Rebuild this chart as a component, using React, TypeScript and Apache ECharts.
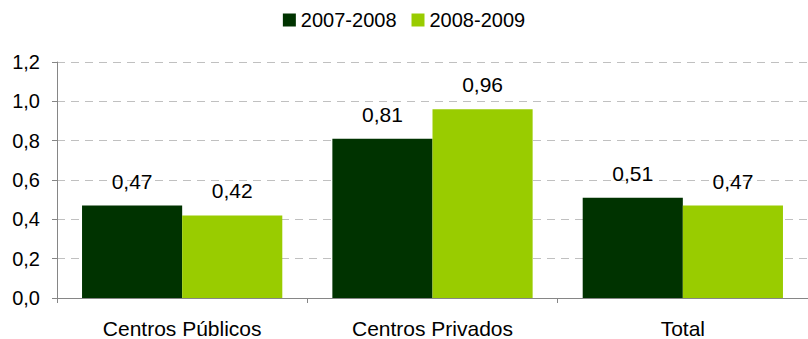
import React, { useEffect, useRef } from "react";
import * as echarts from "echarts";

const categories = ["Centros Públicos", "Centros Privados", "Total"];
const seriesNames = ["2007-2008", "2008-2009"];
const values2007 = [0.47, 0.81, 0.51];
const values2008 = [0.42, 0.96, 0.47];
const colors = ["#003300", "#99CC00"];

const fmt = (v: number) => v.toFixed(2).replace(".", ",");

export default function App() {
  const ref = useRef<HTMLDivElement>(null);
  useEffect(() => {
    if (!ref.current) return;
    const chart = echarts.init(ref.current, undefined, { renderer: "svg" });
    const font = "'Liberation Sans', Arial, sans-serif";
    const mkSeries = (name: string, data: number[], color: string) => ({
      name,
      type: "bar",
      data,
      barGap: "0%",
      barCategoryGap: "20%",
      itemStyle: { color },
      label: {
        show: true,
        position: "top",
        distance: 14,
        formatter: (p: any) => fmt(p.value),
        fontFamily: font,
        fontSize: 21,
        color: "#000",
      },
    });
    chart.setOption({
      animation: false,
      textStyle: { fontFamily: font },
      legend: {
        top: 10,
        left: "center",
        padding: 0,
        itemWidth: 13,
        itemHeight: 13,
        itemGap: 15,
        icon: "rect",
        textStyle: { fontSize: 20, color: "#000", fontFamily: font },
        data: seriesNames,
      },
      grid: { left: 57, right: 0, top: 62, bottom: 39, containLabel: false },
      xAxis: {
        type: "category",
        data: categories,
        axisLine: { lineStyle: { color: "#868686", width: 1 } },
        axisTick: { show: true, length: 5, alignWithLabel: false, lineStyle: { color: "#868686" } },
        axisLabel: { fontSize: 21, color: "#000", margin: 20, fontFamily: font },
      },
      yAxis: {
        type: "value",
        min: 0,
        max: 1.2,
        interval: 0.2,
        axisLine: { show: true, lineStyle: { color: "#868686", width: 1 } },
        axisTick: { show: true, length: 5, lineStyle: { color: "#868686" } },
        axisLabel: {
          fontSize: 20,
          color: "#000",
          margin: 17,
          fontFamily: font,
          formatter: (v: number) => v.toFixed(1).replace(".", ","),
        },
        splitLine: { show: true, lineStyle: { color: "#c0c0c0", type: [8, 6], width: 1 } },
      },
      series: [
        mkSeries(seriesNames[0], values2007, colors[0]),
        mkSeries(seriesNames[1], values2008, colors[1]),
      ],
    });
    return () => chart.dispose();
  }, []);
  return (
    <div
      ref={ref}
      style={{ width: 808, height: 339, position: "absolute", left: 0, top: 0 }}
    />
  );
}
